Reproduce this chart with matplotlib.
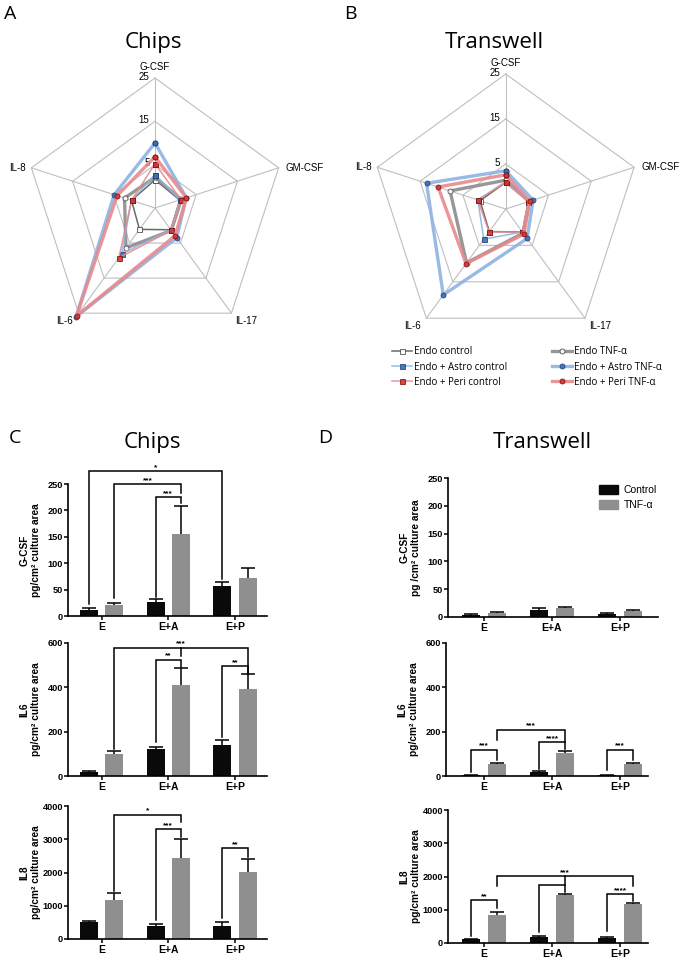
import matplotlib.pyplot as plt
from matplotlib.patches import Patch
import numpy as np

plt.rcParams['font.family'] = ['Liberation Sans', 'DejaVu Sans']

# ---------------- radar data (A: chips, B: transwell) ----------------
cytokines = ['G-CSF', 'GM-CSF', 'IL-17', 'IL-6', 'IL-8']
radar_names = ['Endo control', 'Endo TNF-α', 'Endo + Astro control',
               'Endo + Astro TNF-α', 'Endo + Peri control', 'Endo + Peri TNF-α']
rings = [5, 15, 25]
rmin, rmax = -5, 25

chips_endo_ctrl = [1.5, 1.0, 1.2, 1.1, 0.7]
chips_endo_tnf = [2.1, 1.4, 1.4, 6.4, 2.4]
chips_astro_ctrl = [2.7, 1.1, 1.2, 8.1, 0.7]
chips_astro_tnf = [10.0, 2.6, 3.5, 26.0, 4.9]
chips_peri_ctrl = [5.2, 1.3, 1.4, 9.2, 0.7]
chips_peri_tnf = [6.8, 2.6, 2.9, 25.8, 4.2]

tw_endo_ctrl = [0.9, 0.3, 1.3, 1.2, 1.0]
tw_endo_tnf = [1.4, 0.5, 1.6, 9.8, 8.0]
tw_astro_ctrl = [1.1, 0.3, 1.3, 3.3, 1.5]
tw_astro_tnf = [3.5, 1.4, 3.1, 18.6, 13.5]
tw_peri_ctrl = [0.9, 0.3, 1.3, 1.3, 1.5]
tw_peri_tnf = [2.6, 0.6, 1.9, 10.0, 10.8]

# ---------------- bar data (C: chips, D: transwell) ----------------
groups = ['E', 'E+A', 'E+P']

chips_gcsf_ctrl = [11, 27, 56]
chips_gcsf_ctrl_err = [5, 5, 8]
chips_gcsf_tnf = [20, 155, 72]
chips_gcsf_tnf_err = [5, 53, 18]
chips_il6_ctrl = [16, 122, 140]
chips_il6_ctrl_err = [5, 10, 22]
chips_il6_tnf = [97, 412, 393]
chips_il6_tnf_err = [15, 76, 65]
chips_il8_ctrl = [500, 380, 380]
chips_il8_ctrl_err = [30, 80, 120]
chips_il8_tnf = [1180, 2430, 2030]
chips_il8_tnf_err = [210, 570, 370]

tw_gcsf_ctrl = [4, 13, 6]
tw_gcsf_ctrl_err = [1, 4, 1]
tw_gcsf_tnf = [8, 16, 11]
tw_gcsf_tnf_err = [1.5, 2, 1.5]
tw_il6_ctrl = [3, 18, 3]
tw_il6_ctrl_err = [1, 3, 1]
tw_il6_tnf = [55, 105, 55]
tw_il6_tnf_err = [5, 7, 4]
tw_il8_ctrl = [110, 190, 160]
tw_il8_ctrl_err = [15, 10, 10]
tw_il8_tnf = [850, 1450, 1160]
tw_il8_tnf_err = [70, 30, 40]

# significance brackets: label, (group, series) left, right, line level, leg ends, optional middle leg
chips_gcsf_sig = [('*', (0, 0), (2, 0), 275, 22, 70, None, None),
                  ('***', (0, 1), (1, 1), 250, 35, 233, None, None),
                  ('***', (1, 0), (1, 1), 225, 36, 214, None, None)]
chips_il6_sig = [('***', (0, 1), (2, 1), 579, 122, 465, (1, 1), 540),
                 ('**', (1, 0), (1, 1), 525, 153, 492, None, None),
                 ('**', (2, 0), (2, 1), 496, 176, 462, None, None)]
chips_il8_sig = [('*', (0, 1), (1, 1), 3740, 1450, 3530, None, None),
                 ('***', (1, 0), (1, 1), 3310, 560, 3080, None, None),
                 ('**', (2, 0), (2, 1), 2730, 640, 2460, None, None)]
tw_gcsf_sig = []
tw_il6_sig = [('***', (0, 0), (0, 1), 119, 20, 72, None, None),
              ('***', (0, 1), (1, 1), 209, 164, 153, None, None),
              ('****', (1, 0), (1, 1), 153, 33, 120, None, None),
              ('***', (2, 0), (2, 1), 119, 25, 72, None, None)]
tw_il8_sig = [('**', (0, 0), (0, 1), 1300, 200, 1050, None, None),
              ('***', (0, 1), (2, 1), 2005, 1720, 1720, (1, 1), 1750),
              ('', (1, 0), (1, 1), 1750, 333, 1520, None, None),
              ('****', (2, 0), (2, 1), 1470, 373, 1250, None, None)]

W, H = 688, 960
fig = plt.figure(figsize=(W / 100, H / 100), dpi=100)

GRID = '#BFBFBF'
styles = [
    dict(color='#595959', lw=1.1, marker='s', mfc='white', mec='#404040'),
    dict(color='#8C8C8C', lw=2.4, marker='o', mfc='white', mec='#404040'),
    dict(color='#8DB3E2', lw=1.1, marker='s', mfc='#3A6DB5', mec='#1F3F6E'),
    dict(color='#8DB3E2', lw=2.4, marker='o', mfc='#3A6DB5', mec='#1F3F6E'),
    dict(color='#E88A8C', lw=1.1, marker='s', mfc='#D7312F', mec='#7A1010'),
    dict(color='#E88A8C', lw=2.4, marker='o', mfc='#D7312F', mec='#7A1010'),
]


def px_axes(left, top, right, bottom, **kw):
    return fig.add_axes([left / W, 1 - bottom / H, (right - left) / W, (bottom - top) / H], **kw)


def radar(cx, cy, R, series):
    half = R * 1.2
    ax = px_axes(cx - half, cy - half, cx + half, cy + half)
    lim = half / R
    ax.set_xlim(-lim, lim)
    ax.set_ylim(-lim, lim)
    ax.axis('off')
    n = len(cytokines)
    ang = np.pi / 2 - np.arange(n) * 2 * np.pi / n

    def xy(vals):
        r = (np.asarray(vals, float) - rmin) / (rmax - rmin)
        x, y = r * np.cos(ang), r * np.sin(ang)
        return np.append(x, x[0]), np.append(y, y[0])

    for ring in rings:
        x, y = xy([ring] * n)
        ax.plot(x, y, color=GRID, lw=0.8, zorder=1)
        ax.annotate(str(ring), (0, y[0]), xytext=(-4, 1), textcoords='offset points',
                    ha='right', va='center', fontsize=7)
    ox, oy = xy([rmax] * n)
    for k in range(n):
        ax.plot([0, ox[k]], [0, oy[k]], color=GRID, lw=0.8, zorder=1)
    offs = [((0, 4), 'center', 'bottom'), ((5, 0), 'left', 'center'),
            ((3, -2), 'left', 'top'), ((-4, -2), 'right', 'top'),
            ((-4, 0), 'right', 'center')]
    for k, name in enumerate(cytokines):
        (dx, dy), ha, va = offs[k]
        ax.annotate(name, (ox[k], oy[k]), xytext=(dx, dy), textcoords='offset points',
                    ha=ha, va=va, fontsize=7)
    handles = []
    for vals, st in zip(series, styles):
        x, y = xy(vals)
        h, = ax.plot(x, y, ms=3.6, mew=0.6, alpha=0.9, clip_on=False, zorder=3, **st)
        handles.append(h)
    return handles


radar(155, 208, 130, [chips_endo_ctrl, chips_endo_tnf, chips_astro_ctrl,
                      chips_astro_tnf, chips_peri_ctrl, chips_peri_tnf])
hb = radar(505.7, 209, 135, [tw_endo_ctrl, tw_endo_tnf, tw_astro_ctrl,
                             tw_astro_tnf, tw_peri_ctrl, tw_peri_tnf])

order = [0, 2, 4, 1, 3, 5]
fig.legend([hb[i] for i in order], [radar_names[i] for i in order], ncol=2,
           loc='center', bbox_to_anchor=(527 / W, 1 - 367 / H), frameon=False,
           prop={'family': 'Open Sans', 'size': 7}, handlelength=2.1,
           columnspacing=4.6, labelspacing=0.45, handletextpad=0.2)

# panel letters and titles
for txt, x, y, size in [('A', 4, 19, 14), ('B', 344, 19, 14), ('C', 9, 443, 14),
                        ('D', 318, 443, 14)]:
    fig.text(x / W, 1 - y / H, txt, fontsize=size, family='Open Sans', va='baseline')
for txt, x, y in [('Chips', 153, 48), ('Transwell', 494, 48), ('Chips', 152, 448),
                  ('Transwell', 542, 448)]:
    fig.text(x / W, 1 - y / H, txt, fontsize=16, family='Open Sans', ha='center', va='baseline')

BW, OFF = 0.27, 0.19


def xpos(gs):
    g, s = gs
    return g + (2 * s - 1) * OFF


def bar_panel(box, xlim, ymax, ystep, ctrl, ctrl_err, tnf, tnf_err, name, sig, legend=False):
    ax = px_axes(*box)
    idx = np.arange(len(groups))
    for vals, err, col, s in [(ctrl, ctrl_err, '#0A0A0A', 0), (tnf, tnf_err, '#8F8F8F', 1)]:
        ax.bar(idx + (2 * s - 1) * OFF, vals, BW, color=col, zorder=2)
        eb = ax.errorbar(idx + (2 * s - 1) * OFF, vals, yerr=[np.zeros(len(vals)), err],
                         fmt='none', ecolor='black', elinewidth=1.1, capsize=5,
                         capthick=1.1, zorder=3)
        eb[1][0].set_visible(False)
    for lab, a, b, y, b1, b2, m, bm in sig:
        kw = dict(color='black', lw=1.1, clip_on=False, solid_joinstyle='miter', zorder=4)
        x1, x2 = xpos(a), xpos(b)
        ax.plot([x1, x1, x2, x2], [b1, y, y, b2], **kw)
        tx = (x1 + x2) / 2
        if m is not None:
            tx = xpos(m)
            ax.plot([tx, tx], [y, bm], **kw)
        if lab:
            ax.text(tx, y, lab, ha='center', va='bottom', fontsize=6,
                    fontweight='bold', clip_on=False)
    ax.set_xlim(*xlim)
    ax.set_ylim(0, ymax)
    ax.set_xticks(idx, groups, fontweight='bold', fontsize=7.5)
    ax.set_yticks(np.arange(0, ymax + 1, ystep))
    plt.setp(ax.get_yticklabels(), fontweight='bold', fontsize=6.6)
    ax.tick_params(width=1.1, length=3, pad=0.6)
    ax.tick_params(axis='x', pad=1.5)
    for sp in ['top', 'right']:
        ax.spines[sp].set_visible(False)
    for sp in ['left', 'bottom']:
        ax.spines[sp].set_linewidth(1.2)
    ax.set_ylabel(name, fontweight='bold', fontsize=7.3, linespacing=1.15)
    ax.yaxis.set_label_coords(-27 / (box[2] - box[0]), 0.5)
    if legend:
        ax.legend([Patch(color='#0A0A0A'), Patch(color='#8F8F8F')], ['Control', 'TNF-α'],
                  loc='upper right', bbox_to_anchor=(1.04, 1.02), frameon=False,
                  fontsize=7.5, handlelength=1.8, handleheight=1.0, handletextpad=0.6,
                  labelspacing=0.5)
    return ax


bar_panel((68, 484, 267, 616), (-0.505, 2.48), 250, 50, chips_gcsf_ctrl, chips_gcsf_ctrl_err,
          chips_gcsf_tnf, chips_gcsf_tnf_err, 'G-CSF\npg/cm² culture area', chips_gcsf_sig)
bar_panel((68, 643, 267, 776), (-0.505, 2.48), 600, 200, chips_il6_ctrl, chips_il6_ctrl_err,
          chips_il6_tnf, chips_il6_tnf_err, 'IL6\npg/cm² culture area', chips_il6_sig)
bar_panel((68, 806, 267, 939), (-0.505, 2.48), 4000, 1000, chips_il8_ctrl, chips_il8_ctrl_err,
          chips_il8_tnf, chips_il8_tnf_err, 'IL8\npg/cm² culture area', chips_il8_sig)
bar_panel((448, 478, 658, 617), (-0.53, 2.56), 250, 50, tw_gcsf_ctrl, tw_gcsf_ctrl_err,
          tw_gcsf_tnf, tw_gcsf_tnf_err, 'G-CSF\npg /cm² culture area', tw_gcsf_sig, legend=True)
bar_panel((446, 643, 648, 776), (-0.56, 2.41), 600, 200, tw_il6_ctrl, tw_il6_ctrl_err,
          tw_il6_tnf, tw_il6_tnf_err, 'IL6\npg/cm² culture area', tw_il6_sig)
bar_panel((448, 810, 648, 943), (-0.53, 2.41), 4000, 1000, tw_il8_ctrl, tw_il8_ctrl_err,
          tw_il8_tnf, tw_il8_tnf_err, 'IL8\npg/cm² culture area', tw_il8_sig)

fig.savefig('out.png', dpi=100)
